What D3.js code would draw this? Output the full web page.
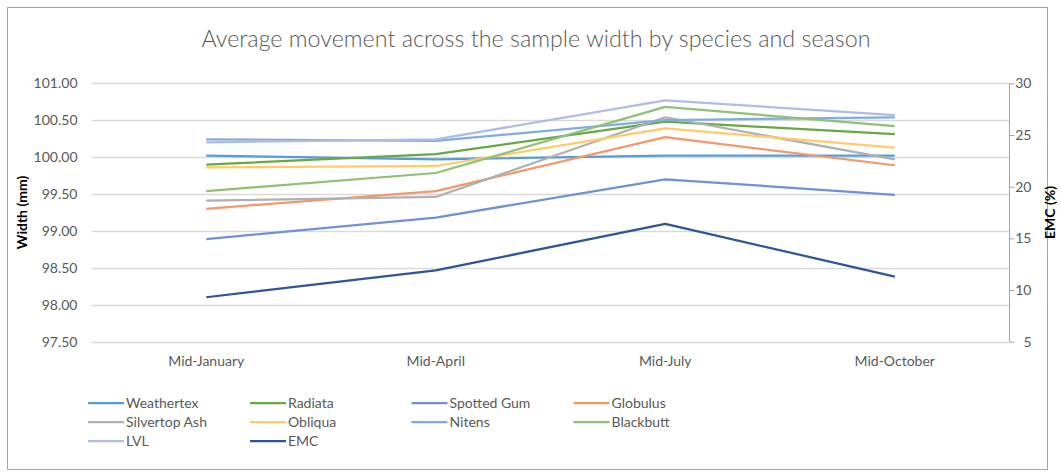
<!DOCTYPE html>
<html>
<head>
<meta charset="utf-8">
<script src="https://cdn.jsdelivr.net/npm/d3@7"></script>
<style>
  html, body { margin: 0; padding: 0; background: #fff; }
  svg { display: block; }
  text { font-family: Lato, "Open Sans", sans-serif; }
</style>
</head>
<body>
<svg id="chart" width="1061" height="475"></svg>
<script>
// Seasons along the x axis
const seasons = ["Mid-January", "Mid-April", "Mid-July", "Mid-October"];

// Average sample width (mm) per species, one value per season
const weathertex   = [100.02, 99.97, 100.02, 100.02];
const radiata      = [99.90, 100.04, 100.48, 100.31];
const spottedGum   = [98.89, 99.18, 99.70, 99.49];
const globulus     = [99.30, 99.54, 100.27, 99.89];
const silvertopAsh = [99.41, 99.46, 100.54, 99.97];
const obliqua      = [99.86, 99.88, 100.39, 100.13];
const nitens       = [100.24, 100.22, 100.50, 100.54];
const blackbutt    = [99.54, 99.785, 100.68, 100.42];
const lvl          = [100.20, 100.24, 100.77, 100.57];

// Equilibrium moisture content (%), plotted on the secondary axis
const emc = [9.3, 11.9, 16.4, 11.3];

// Axis ticks
const widthTicks = [97.5, 98.0, 98.5, 99.0, 99.5, 100.0, 100.5, 101.0];
const emcTicks = [5, 10, 15, 20, 25, 30];

const series = [
  { name: "Weathertex",    values: weathertex,   color: "#5b9bd5", axis: "left" },
  { name: "Radiata",       values: radiata,      color: "#66a845", axis: "left" },
  { name: "Spotted Gum",   values: spottedGum,   color: "#7290d6", axis: "left" },
  { name: "Globulus",      values: globulus,     color: "#f1986c", axis: "left" },
  { name: "Silvertop Ash", values: silvertopAsh, color: "#b0b0b0", axis: "left" },
  { name: "Obliqua",       values: obliqua,      color: "#ffcb66", axis: "left" },
  { name: "Nitens",        values: nitens,       color: "#82abde", axis: "left" },
  { name: "Blackbutt",     values: blackbutt,    color: "#8fc074", axis: "left" },
  { name: "LVL",           values: lvl,          color: "#afbde6", axis: "left" },
  { name: "EMC",           values: emc,          color: "#2f5597", axis: "right" }
];

const svg = d3.select("#chart");

// Chart frame
svg.append("rect")
  .attr("x", 7.5).attr("y", 7.5)
  .attr("width", 1040).attr("height", 462)
  .attr("fill", "#fff").attr("stroke", "#a6a6a6").attr("stroke-width", 1);

const plot = { left: 91.5, right: 1009.5, top: 83.3, bottom: 341.7 };

const x = d3.scaleBand().domain(seasons).range([plot.left, plot.right]);
const yL = d3.scaleLinear().domain([97.5, 101]).range([plot.bottom, plot.top]);
const yR = d3.scaleLinear().domain([5, 30]).range([plot.bottom, plot.top]);

// Title
svg.append("text")
  .attr("x", 536).attr("y", 47)
  .attr("text-anchor", "middle")
  .attr("font-size", 23.3)
  .attr("font-weight", 300)
  .attr("fill", "#595959")
  .text("Average movement across the sample width by species and season");

// Horizontal gridlines
svg.append("g")
  .selectAll("line")
  .data(widthTicks)
  .join("line")
  .attr("x1", plot.left).attr("x2", plot.right)
  .attr("y1", d => Math.round(yL(d)) + 0.5).attr("y2", d => Math.round(yL(d)) + 0.5)
  .attr("stroke", "#d9d9d9").attr("stroke-width", 1.3);

// Left axis labels
const leftAxis = d3.axisLeft(yL).tickValues(widthTicks).tickFormat(d3.format(".2f")).tickSize(0).tickPadding(14);
const gL = svg.append("g").attr("transform", `translate(${plot.left},0)`).call(leftAxis);
gL.select(".domain").remove();
gL.selectAll("text").attr("font-size", 14).attr("fill", "#595959").attr("font-family", "Lato, sans-serif");

// Right axis
const rightAxis = d3.axisRight(yR).tickValues(emcTicks).tickSize(5).tickPadding(4);
const gR = svg.append("g").attr("transform", `translate(${plot.right},0)`).call(rightAxis);
gR.select(".domain").attr("stroke", "#a6a6a6").attr("d", `M0,${plot.top}V${plot.bottom}`);
gR.selectAll(".tick line").attr("stroke", "#a6a6a6");
gR.selectAll("text")
  .attr("font-size", 14).attr("fill", "#595959").attr("font-family", "Lato, sans-serif")
  .attr("text-anchor", "end").attr("x", 22);

// Bottom axis labels
const bottomAxis = d3.axisBottom(x).tickSize(0).tickPadding(14);
const gB = svg.append("g").attr("transform", `translate(0,${plot.bottom})`).call(bottomAxis);
gB.select(".domain").remove();
gB.selectAll("text").attr("font-size", 14).attr("fill", "#595959").attr("font-family", "Lato, sans-serif");

// Axis titles
svg.append("text")
  .attr("transform", `translate(27,${(plot.top + plot.bottom) / 2}) rotate(-90)`)
  .attr("text-anchor", "middle")
  .attr("font-size", 14).attr("font-weight", 700).attr("fill", "#000")
  .text("Width (mm)");

svg.append("text")
  .attr("transform", `translate(1055,${(plot.top + plot.bottom) / 2}) rotate(-90)`)
  .attr("text-anchor", "middle")
  .attr("font-size", 14).attr("font-weight", 700).attr("fill", "#000")
  .text("EMC (%)");

// Series lines
const cx = d => x(d) + x.bandwidth() / 2;
svg.append("g")
  .selectAll("path")
  .data(series)
  .join("path")
  .attr("fill", "none")
  .attr("stroke", d => d.color)
  .attr("stroke-width", 2.25)
  .attr("stroke-linejoin", "round")
  .attr("d", s => {
    const y = s.axis === "right" ? yR : yL;
    return d3.line().x((v, i) => cx(seasons[i])).y(v => y(v))(s.values);
  });

// Legend
const legCols = [88, 250, 411.5, 573.5];
const legRows = [403, 422, 441];
const leg = svg.append("g")
  .selectAll("g")
  .data(series)
  .join("g")
  .attr("transform", (d, i) => `translate(${legCols[i % 4]},${legRows[Math.floor(i / 4)]})`);
leg.append("line")
  .attr("x1", 0).attr("x2", 36).attr("y1", 0).attr("y2", 0)
  .attr("stroke", d => d.color).attr("stroke-width", 2.25);
leg.append("text")
  .attr("x", 38).attr("y", 0).attr("dy", "0.35em")
  .attr("font-size", 14).attr("fill", "#595959")
  .text(d => d.name);
</script>
</body>
</html>
